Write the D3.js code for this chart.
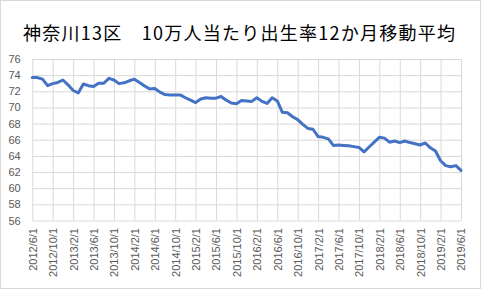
<!DOCTYPE html>
<html>
<head>
<meta charset="utf-8">
<script src="https://cdn.jsdelivr.net/npm/d3@7"></script>
<style>
  body { margin: 0; background: #fff; }
  .tick text { fill: #595959; font-family: "Liberation Sans", Arial, sans-serif; font-size: 11px; }
</style>
</head>
<body>
<div class="chart"></div>
<script>
var svgWidth = 481;
var svgHeight = 289;

var margin = { top: 59, right: 20, bottom: 68.5, left: 32.3 };
var width = svgWidth - margin.left - margin.right;
var height = svgHeight - margin.top - margin.bottom;

// chart title
var title = "神奈川13区　10万人当たり出生率12か月移動平均";

// x axis tick labels (every 4 months)
var tickLabels = ["2012/6/1", "2012/10/1", "2013/2/1", "2013/6/1", "2013/10/1", "2014/2/1",
  "2014/6/1", "2014/10/1", "2015/2/1", "2015/6/1", "2015/10/1", "2016/2/1",
  "2016/6/1", "2016/10/1", "2017/2/1", "2017/6/1", "2017/10/1", "2018/2/1",
  "2018/6/1", "2018/10/1", "2019/2/1", "2019/6/1"];

// y axis ticks
var yTicks = [56, 58, 60, 62, 64, 66, 68, 70, 72, 74, 76];

// 12 month moving average, monthly 2012/6 .. 2019/6
var rates = [
  73.7, 73.7, 73.5, 72.7, 72.95, 73.1, 73.4, 72.8, 72.1, 71.8,
  72.9, 72.7, 72.6, 73.0, 73.0, 73.6, 73.4, 72.95, 73.05, 73.3,
  73.5, 73.1, 72.65, 72.3, 72.35, 71.9, 71.6, 71.55, 71.55, 71.55,
  71.2, 70.9, 70.6, 71.05, 71.2, 71.15, 71.15, 71.35, 70.9, 70.55,
  70.45, 70.85, 70.8, 70.75, 71.2, 70.75, 70.5, 71.2, 70.8, 69.4,
  69.35, 68.85, 68.5, 67.9, 67.4, 67.3, 66.4, 66.3, 66.1, 65.3,
  65.35, 65.3, 65.25, 65.15, 65.05, 64.5, 65.1, 65.7, 66.3, 66.2,
  65.7, 65.85, 65.65, 65.85, 65.65, 65.5, 65.35, 65.6, 65.0, 64.6,
  63.4, 62.8, 62.65, 62.8, 62.2
];

// month labels for each point
var months = d3.timeMonth.range(new Date(2012, 5, 1), new Date(2019, 6, 1))
  .map(d => d.getFullYear() + "/" + (d.getMonth() + 1) + "/1");

var data = months.map((m, i) => ({ month: m, rate: rates[i] }));

var svg = d3.select(".chart")
  .append("svg")
  .attr("width", svgWidth)
  .attr("height", svgHeight);

// chart area border
svg.append("rect")
  .attr("x", 0.5)
  .attr("y", 0.5)
  .attr("width", svgWidth - 1)
  .attr("height", svgHeight - 1)
  .attr("fill", "#fff")
  .attr("stroke", "#d9d9d9");

svg.append("text")
  .attr("x", 23)
  .attr("y", 40)
  .attr("font-family", "'Noto Sans CJK JP', sans-serif")
  .attr("font-size", "18px")
  .attr("textLength", 432)
  .attr("lengthAdjust", "spacing")
  .attr("fill", "#000")
  .text(title);

var chartGroup = svg.append("g")
  .attr("transform", `translate(${margin.left}, ${margin.top})`);

var xScale = d3.scalePoint()
  .domain(months)
  .range([0, width]);

var yScale = d3.scaleLinear()
  .domain([56, 76])
  .range([height, 0]);

// horizontal gridlines + y labels
var yAxis = chartGroup.append("g")
  .call(d3.axisLeft(yScale).tickValues(yTicks).tickSize(-width).tickPadding(11.6).tickFormat(d3.format("d")));
yAxis.select(".domain").remove();
yAxis.selectAll("line").attr("stroke", "#d9d9d9");

// vertical gridlines + rotated x labels
var xAxis = chartGroup.append("g")
  .attr("transform", `translate(0, ${height})`)
  .call(d3.axisBottom(xScale).tickValues(tickLabels).tickSize(-height));
xAxis.select(".domain").remove();
xAxis.selectAll("line").attr("stroke", "#d9d9d9");
xAxis.selectAll("text")
  .attr("transform", "rotate(-90)")
  .attr("text-anchor", "end")
  .attr("x", -7.5)
  .attr("y", 0)
  .attr("dy", "0.36em")
  .attr("dx", 0);

var line = d3.line()
  .x(d => xScale(d.month))
  .y(d => yScale(d.rate));

chartGroup.append("path")
  .datum(data)
  .attr("d", line)
  .attr("fill", "none")
  .attr("stroke", "#4472c4")
  .attr("stroke-width", 3)
  .attr("stroke-linejoin", "round")
  .attr("stroke-linecap", "round");
</script>
</body>
</html>
